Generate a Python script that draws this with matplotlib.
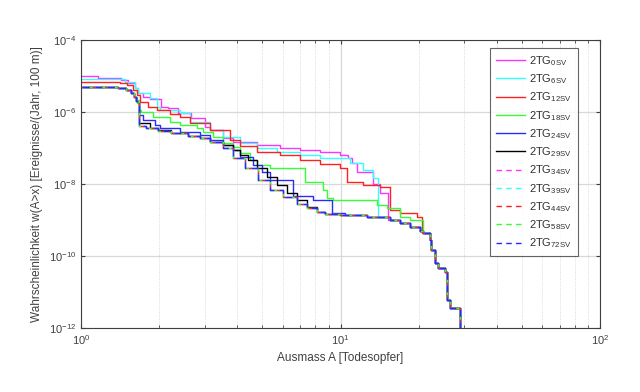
import numpy as np
import matplotlib
matplotlib.use("Agg")
import matplotlib.pyplot as plt
from matplotlib.lines import Line2D
from matplotlib.ticker import LogLocator, NullFormatter, NullLocator

plt.rcParams['font.family'] = ['Liberation Sans', 'DejaVu Sans']
plt.rcParams['mathtext.fontset'] = 'custom'
plt.rcParams['mathtext.rm'] = 'Liberation Sans'
plt.rcParams['mathtext.it'] = 'Liberation Sans:italic'
plt.rcParams['mathtext.bf'] = 'Liberation Sans:bold'

# ---- data ----
tail_x = [15.5, 17.0, 18.5, 20.2, 20.8, 22.1, 22.4, 23.1, 23.8, 25.3, 25.7, 26.4, 28.9]
tail_y = [1.0e-9, 8.3e-10, 6.4e-10, 4.9e-10, 4.4e-10, 2.8e-10, 1.5e-10, 6.4e-11, 4.6e-11, 3.6e-11, 6.0e-12, 3.6e-12, 1e-14]

sv0_x = [1.0, 1.163, 1.426, 1.517, 1.615, 1.659, 1.734, 1.845, 2.034, 2.164, 2.365, 2.654, 3.005, 3.141,
         3.526, 3.853, 4.767, 5.847, 6.982, 8.337, 9.956, 10.69, 11.07, 11.57, 13.35, 14.2, 15.24]
sv0_y = [1.0e-5, 8.8e-6, 7.7e-6, 6.4e-6, 4.6e-6, 3.4e-6, 2.6e-6, 2.3e-6, 1.4e-6, 1.3e-6, 9.4e-7, 6.8e-7, 3.8e-7, 3.2e-7,
         1.9e-7, 1.47e-7, 1.21e-7, 1.0e-7, 8.8e-8, 7.7e-8, 6.4e-8, 5.3e-8, 3.8e-8, 2.15e-8, 1.0e-8, 5.6e-9, 1.0e-9]

sv6_x = [1.0, 1.477, 1.615, 1.659, 1.845, 1.963, 2.016, 2.407, 2.630, 3.141, 3.526, 4.100, 4.767, 5.693,
         6.982, 8.337, 10.88, 12.21, 13.35, 13.95]
sv6_y = [8.3e-6, 6.8e-6, 4.6e-6, 3.4e-6, 2.4e-6, 1.4e-6, 1.14e-6, 9.4e-7, 5.3e-7, 3.2e-7, 2.0e-7, 1.38e-7, 1.0e-7, 7.7e-8,
         6.4e-8, 5.3e-8, 3.8e-8, 2.45e-8, 1.47e-8, 1.21e-9]

sv12_x = [1.0, 1.413, 1.504, 1.586, 1.644, 1.688, 1.812, 1.963, 2.203, 2.407, 2.630, 3.141, 3.752, 4.100,
          4.767, 5.847, 6.982, 8.337, 9.956, 10.59, 12.21, 14.2, 15.52, 16.96, 19.71, 20.61]
sv12_y = [6.8e-6, 6.4e-6, 5.6e-6, 4.1e-6, 3.0e-6, 1.9e-6, 1.4e-6, 1.14e-6, 8.8e-7, 7.3e-7, 4.9e-7, 3.2e-7, 1.67e-7, 1.14e-7,
          7.7e-8, 6.4e-8, 4.6e-8, 3.6e-8, 2.8e-8, 1.14e-8, 9.4e-9, 8.3e-9, 1.9e-9, 1.56e-9, 1.21e-9, 4.4e-10]

sv18_x = [1.0, 1.388, 1.491, 1.558, 1.600, 1.644, 1.673, 1.703, 1.894, 2.203, 2.407, 2.799, 2.952, 3.226,
          3.526, 3.853, 4.100, 4.480, 4.767, 5.351, 7.298, 8.561, 8.872, 9.356, 13.83, 15.11, 16.96, 18.53, 20.79]
sv18_y = [4.9e-6, 4.6e-6, 4.1e-6, 3.4e-6, 2.6e-6, 1.8e-6, 1.14e-6, 1.0e-6, 7.3e-7, 5.3e-7, 4.4e-7, 3.6e-7, 2.8e-7, 2.0e-7,
          1.38e-7, 1.07e-7, 7.3e-8, 4.6e-8, 3.4e-8, 2.8e-8, 1.14e-8, 6.8e-9, 4.1e-9, 3.6e-9, 2.6e-9, 2.15e-9, 1.21e-9, 1.0e-9, 4.9e-10]

sv24_x = [1.0, 1.388, 1.491, 1.558, 1.600, 1.629, 1.673, 1.734, 1.928, 2.016, 2.407, 2.875, 3.141, 3.526,
          3.853, 4.100, 4.601, 4.985, 5.351, 6.561, 7.834, 9.273, 10.41, 12.65]
sv24_y = [4.9e-6, 4.6e-6, 4.1e-6, 3.4e-6, 2.6e-6, 2.0e-6, 8.3e-7, 6.0e-7, 4.4e-7, 3.6e-7, 2.8e-7, 2.3e-7, 1.67e-7, 1.21e-7,
          8.8e-8, 5.6e-8, 3.4e-8, 2.15e-8, 1.29e-8, 4.6e-9, 3.6e-9, 1.56e-9, 1.38e-9, 1.21e-9]

sv29_x = [1.0, 1.388, 1.491, 1.558, 1.600, 1.629, 1.673, 1.845, 1.980, 2.223, 2.585, 2.875, 3.141, 3.526,
          3.853, 4.100, 4.401, 4.767, 5.210, 5.693, 6.221, 6.799, 7.429, 8.118, 8.715, 9.956, 12.65]
sv29_y = [4.9e-6, 4.6e-6, 4.1e-6, 3.4e-6, 2.6e-6, 2.0e-6, 4.9e-7, 3.6e-7, 3.2e-7, 2.6e-7, 2.15e-7, 1.9e-7, 1.47e-7, 1.21e-7,
          8.8e-8, 6.4e-8, 4.6e-8, 2.8e-8, 1.6e-8, 9.4e-9, 5.6e-9, 3.6e-9, 2.3e-9, 1.67e-9, 1.47e-9, 1.38e-9, 1.21e-9]

# the five dashed curves (34SV-72SV) practically coincide
dash_x = [1.0, 1.388, 1.491, 1.558, 1.600, 1.629, 1.673, 1.780, 1.980, 2.223, 2.585, 2.875, 3.141, 3.526,
          3.853, 4.285, 4.810, 5.351, 6.004, 6.799, 7.429, 8.118, 8.715, 9.956, 12.65]
dash_y = [4.9e-6, 4.6e-6, 4.1e-6, 3.4e-6, 2.6e-6, 2.0e-6, 4.1e-7, 3.7e-7, 3.0e-7, 2.6e-7, 2.15e-7, 1.9e-7, 1.47e-7, 1.0e-7,
          5.3e-8, 2.8e-8, 1.29e-8, 6.8e-9, 4.4e-9, 2.8e-9, 2.15e-9, 1.67e-9, 1.47e-9, 1.38e-9, 1.21e-9]

labels = ['0SV', '6SV', '12SV', '18SV', '24SV', '29SV', '34SV', '39SV', '44SV', '58SV', '72SV']
colors = ['#ff33ff', '#33ffff', '#ff2020', '#33ff33', '#2a2aff', '#000000',
          '#ff33ff', '#33ffff', '#ff2020', '#33ff33', '#2a2aff']

solid = [(sv0_x, sv0_y), (sv6_x, sv6_y), (sv12_x, sv12_y), (sv18_x, sv18_y), (sv24_x, sv24_y), (sv29_x, sv29_y)]

fig = plt.figure(figsize=(6.4, 3.92), dpi=100)
ax = fig.add_axes([81/640, 1-328/392, 519/640, 288/392])


def with_tail(xs, ys):
    tx = [t for t in tail_x if t > xs[-1]]
    ty = tail_y[len(tail_x) - len(tx):]
    return list(xs) + tx, list(ys) + ty


handles = []
for i, (xs, ys) in enumerate(solid):
    X, Y = with_tail(xs, ys)
    ax.plot(X, Y, drawstyle='steps-post', color=colors[i], lw=1.0)
    handles.append(Line2D([], [], color=colors[i], lw=1.0, linestyle='-'))

for j in range(5):
    i = 6 + j
    X, Y = with_tail(dash_x, dash_y)
    ax.plot(X, Y, drawstyle='steps-post', color=colors[i], lw=1.0,
            linestyle=(j * 2.0, (5, 4)))
    handles.append(Line2D([], [], color=colors[i], lw=1.0, linestyle=(0, (4, 3))))

ax.set_xscale('log')
ax.set_yscale('log')
ax.set_xlim(1, 100)
ax.set_ylim(1e-12, 1e-4)
ax.set_yticks([1e-12, 1e-10, 1e-8, 1e-6, 1e-4])
ax.yaxis.set_minor_locator(NullLocator())
ax.xaxis.set_minor_locator(LogLocator(base=10, subs=np.arange(2, 10)))
ax.xaxis.set_minor_formatter(NullFormatter())

ax.grid(True, which='major', color='#d8d8d8', lw=0.9, linestyle='-')
ax.grid(True, which='minor', axis='x', color='#cfcfcf', lw=0.6, linestyle=':')
ax.set_axisbelow(True)

for s in ax.spines.values():
    s.set_color('#404040')
    s.set_linewidth(0.8)
ax.tick_params(which='both', direction='in', colors='#404040', labelsize=8, top=True, right=True)
ax.tick_params(which='major', length=3)
ax.tick_params(which='minor', length=2)
for lbl in ax.get_xticklabels() + ax.get_yticklabels():
    lbl.set_color('#404040')

ax.set_xlabel('Ausmass A [Todesopfer]', fontsize=8.5, color='#404040', labelpad=4)
ax.set_ylabel('Wahrscheinlichkeit w(A>x) [Ereignisse/(Jahr, 100 m)]', fontsize=8.5, color='#404040', labelpad=4)

leg_labels = [r'2TG$_{\mathrm{' + lab + '}}$' for lab in labels]
leg = ax.legend(handles, leg_labels, loc='upper right',
                bbox_to_anchor=((578 - 81) / 519, 1 - (48 - 40) / 288),
                borderaxespad=0, fontsize=8, frameon=True, fancybox=False,
                handlelength=2.6, labelspacing=0.4, handletextpad=0.4, borderpad=0.55)
leg.get_frame().set_edgecolor('#404040')
leg.get_frame().set_linewidth(0.8)
for t in leg.get_texts():
    t.set_color('#303030')

fig.savefig('out.png', dpi=100)
